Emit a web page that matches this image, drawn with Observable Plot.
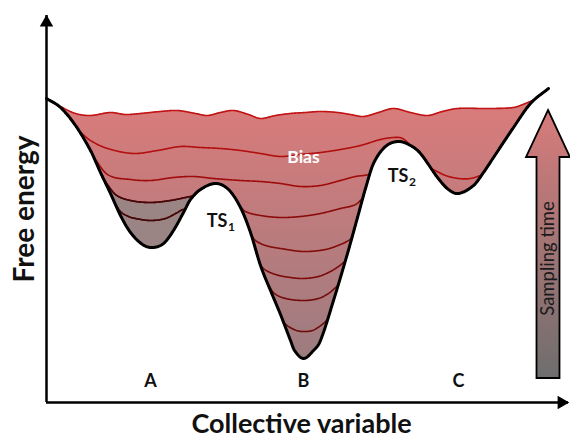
<!DOCTYPE html>
<html><head><meta charset="utf-8">
<script src="https://cdn.jsdelivr.net/npm/d3@7"></script>
<script src="https://cdn.jsdelivr.net/npm/@observablehq/plot@0.6"></script>
<style>
html,body{margin:0;padding:0;background:#fff;}
#chart{width:570px;height:438px;}
</style></head><body><div id="chart"></div>
<script>
// ---- Data (collective variable, free energy) ----
const freeEnergy = [[0,30.4],[1.4,29.5],[2.9,27.7],[4.4,25.2],[5.4,23.0],[6.4,20.9],[7.4,18.7],[8.4,17.0],[9.6,15.8],[10.6,15.5],[11.7,15.9],[12.7,17.2],[13.7,19.0],[14.4,20.3],[15.4,21.3],[16.9,21.9],[18.2,21.3],[19.4,19.5],[20.4,17.0],[21.4,13.7],[22.4,11.2],[23.4,8.8],[24.4,6.2],[24.8,5.2],[25.7,4.4],[26.7,5.2],[27.4,6.2],[28.7,10.2],[30.1,14.9],[31.1,18.5],[31.9,21.4],[32.7,23.9],[33.9,25.6],[35.2,26.1],[36.4,25.7],[37.4,24.9],[39.1,22.5],[40.2,21.3],[41.2,20.9],[42.7,21.7],[43.7,23.0],[44.7,24.5],[46.7,27.5],[48.4,29.9],[50.2,31.4]];

// biased free energy after successive sampling times (1 = earliest)
const bias1 = [[23.7,8.0],[24.2,7.6],[25.0,7.2],[25.7,7.1],[26.6,7.2],[27.3,7.6],[27.8,8.0],[28.1,8.3]];
const bias2 = [[22.2,11.7],[22.8,10.9],[23.9,10.4],[25.7,10.2],[27.2,10.4],[28.2,10.9],[28.8,11.4],[29.2,11.8],[29.5,12.4]];
const bias3 = [[21.0,14.4],[21.7,13.4],[22.9,12.8],[24.4,12.5],[25.7,12.4],[27.2,12.6],[28.4,13.1],[29.2,13.6],[29.7,14.0],[30.1,14.4]];
const bias4 = [[6.6,20.3],[7.4,19.1],[8.2,18.6],[8.9,18.4],[10.4,18.2],[11.9,18.4],[13.1,19.0],[13.7,19.3],[14.6,19.0],[20.2,17.0],[20.9,16.2],[21.9,15.7],[23.4,15.4],[25.7,15.1],[27.9,15.3],[29.4,15.8],[30.2,16.2],[30.7,16.6]];
const bias5 = [[5.8,22.2],[6.9,20.8],[8.4,20.2],[10.4,20.0],[12.4,20.2],[14.4,20.6],[15.2,20.7],[16.0,20.6],[19.0,19.9],[19.9,19.1],[21.4,18.7],[23.4,18.5],[25.4,18.6],[27.4,18.9],[29.4,19.4],[30.9,19.8],[31.8,20.6]];
const bias6 = [[4.6,24.7],[6.1,22.8],[8.4,22.3],[10.4,22.2],[12.7,22.5],[14.7,22.6],[16.7,22.4],[19.4,22.2],[21.4,22.1],[23.4,21.9],[25.4,21.6],[27.4,21.7],[29.4,22.2],[30.9,22.6],[32.2,22.8],[32.8,23.2]];
const bias7 = [[3.2,27.2],[4.4,26.2],[6.1,25.4],[8.7,24.9],[11.1,25.2],[13.4,25.6],[15.4,25.5],[17.4,25.4],[19.4,25.2],[21.4,24.9],[23.4,24.6],[25.4,24.8],[27.4,25.0],[29.4,25.3],[31.4,25.7],[33.4,26.3],[34.7,26.5],[35.6,26.4],[36.4,25.6],[37.2,23.7],[38.4,23.4],[39.9,22.7],[41.2,22.4],[42.4,22.4],[43.7,22.8],[44.4,23.0]];
const bias8 = [[0,30.4],[1.4,29.6],[2.9,28.9],[4.4,28.7],[6.4,29.0],[7.9,28.8],[9.4,28.9],[11.4,29.1],[13.1,29.2],[14.9,28.9],[16.1,28.7],[17.4,29.0],[18.7,29.2],[20.2,28.8],[21.4,28.4],[22.9,28.7],[24.4,28.9],[25.9,29.0],[27.4,29.1],[29.1,29.0],[30.4,28.8],[31.7,28.6],[33.2,29.0],[34.7,29.4],[36.4,29.0],[38.1,28.7],[39.6,29.1],[41.1,29.4],[44.1,29.4],[46.7,29.5],[47.9,29.9],[48.6,30.2]];

const basinLabels = [{label:"A", cv:10.4, F:2.1},{label:"B", cv:25.7, F:2.1},{label:"C", cv:41.2, F:2.1}];
const tsLabels = [{label:"TS", sub:"1", cv:18.1, F:18.1},{label:"TS", sub:"2", cv:36.2, F:22.6}];
const biasLabel = [{label:"Bias", cv:25.7, F:24.5}];
const samplingArrow = {cv:50.2, from:2.4, to:29.2, labelF:14.4, label:"Sampling time"};
const axisTitles = {x:"Collective variable", y:"Free energy"};
const axisMax = {cv:52.2, F:38.7};

// ---- smooth interpolation through the read points ----
function hermite(pts){
  const n = pts.length, xs = pts.map(p=>p[0]), ys = pts.map(p=>p[1]);
  const m = ys.map((_,i)=> i===0 ? (ys[1]-ys[0])/(xs[1]-xs[0]) : i===n-1 ? (ys[n-1]-ys[n-2])/(xs[n-1]-xs[n-2]) : (ys[i+1]-ys[i-1])/(xs[i+1]-xs[i-1]));
  return x=>{
    if (x < xs[0] || x > xs[n-1]) return null;
    let i = d3.bisectRight(xs, x) - 1; if (i > n-2) i = n-2; if (i < 0) i = 0;
    const h = xs[i+1]-xs[i], t = (x-xs[i])/h, t2=t*t, t3=t2*t;
    return (2*t3-3*t2+1)*ys[i] + (t3-2*t2+t)*h*m[i] + (-2*t3+3*t2)*ys[i+1] + (t3-t2)*h*m[i+1];
  };
}
const fCurve = hermite(freeEnergy);
const biasSets = [bias1,bias2,bias3,bias4,bias5,bias6,bias7,bias8].map(hermite);
const lastX = freeEnergy[freeEnergy.length-1][0];
const rows = d3.range(0, lastX, 0.05).concat([lastX]).map(x=>{
  const F = fCurve(x); const r = {x, F}; let prev = F;
  biasSets.forEach((f,k)=>{ const v = f(x); const y = Math.max(prev, v==null ? -Infinity : v); r["L"+(k+1)] = y; prev = y; });
  return r;
});
const basinA = rows.filter(r=>r.x <= 16.9);

const lineColors = ["#6e0b0b","#740b0b","#7b0b0b","#820b0b","#8c0b0b","#a00c0c","#b20f0f","#c21414"];

const marks = [
  Plot.areaY(rows, {x:"x", y1:"F", y2:"L8", fill:"url(#biasGrad)", curve:"linear"}),
  Plot.areaY(basinA, {x:"x", y1:"F", y2:"L5", fill:"#9a8484", curve:"linear"}),
  ...lineColors.map((c,k)=>Plot.line(rows, {x:"x", y:"L"+(k+1), stroke:c, strokeWidth:1.6, curve:"linear"})),
  Plot.line(basinA, {x:"x", y:"L4", stroke:"#3a0c0c", strokeWidth:1.6}),
  Plot.line(basinA, {x:"x", y:"L5", stroke:"#40090a", strokeWidth:1.6}),
  Plot.line(rows, {x:"x", y:"F", stroke:"#000", strokeWidth:3, curve:"linear"}),
  // axes with arrowheads
  Plot.ruleX([0], {y1:0, y2:axisMax.F, stroke:"#000", strokeWidth:2.5}),
  Plot.ruleY([0], {x1:0, x2:axisMax.cv, stroke:"#000", strokeWidth:2.5}),
  Plot.dot([{cv:0, F:axisMax.F}], {x:"cv", y:"F", symbol:"triangle", r:5, fill:"#000", stroke:null, dy:7}),
  Plot.dot([{cv:axisMax.cv, F:0}], {x:"cv", y:"F", symbol:"triangle", r:5, fill:"#000", stroke:null, rotate:90, dx:-7}),
  // labels
  Plot.text(basinLabels, {x:"cv", y:"F", text:"label", fontSize:18, fontWeight:"bold", fill:"#111"}),
  Plot.text(tsLabels, {x:"cv", y:"F", text:"label", textAnchor:"end", fontSize:18, fontWeight:"bold", fill:"#111"}),
  Plot.text(tsLabels, {x:"cv", y:"F", text:"sub", textAnchor:"start", fontSize:12, fontWeight:"bold", fill:"#111", dy:6, dx:0.5}),
  Plot.text(biasLabel, {x:"cv", y:"F", text:"label", fontSize:17.5, fontWeight:"bold", fill:"#fff"}),
  Plot.text([samplingArrow], {x:"cv", y:"labelF", text:"label", rotate:-90, fontSize:18.5, fill:"#1a1a1a"}),
  Plot.text([axisTitles.x], {frameAnchor:"bottom", textAnchor:"middle", lineAnchor:"middle", dy:22, dx:-6, fontSize:27, fontWeight:"bold", fill:"#111"}),
  Plot.text([axisTitles.y], {frameAnchor:"left", textAnchor:"middle", lineAnchor:"middle", dx:-21, rotate:-90, fontSize:28, fontWeight:"bold", fill:"#111"})
];

const svg = Plot.plot({
  width:570, height:438,
  marginLeft:46, marginRight:2, marginTop:15, marginBottom:36,
  x:{domain:[0, axisMax.cv], axis:null},
  y:{domain:[0, axisMax.F], axis:null},
  style:{fontFamily:"Lato, 'Open Sans', sans-serif", background:"#fff", overflow:"visible"},
  marks
});

// gradients and the sampling-time arrow, positioned through Plot's scales
const xs = svg.scale("x"), ys = svg.scale("y");
const NS = "http://www.w3.org/2000/svg";
const defs = document.createElementNS(NS, "defs");
function grad(id, yTop, yBot, c1, c2){
  const g = document.createElementNS(NS, "linearGradient");
  g.setAttribute("id", id); g.setAttribute("gradientUnits","userSpaceOnUse");
  g.setAttribute("x1",0); g.setAttribute("x2",0); g.setAttribute("y1",yTop); g.setAttribute("y2",yBot);
  [[0,c1],[1,c2]].forEach(([o,c])=>{ const s=document.createElementNS(NS,"stop"); s.setAttribute("offset",o); s.setAttribute("stop-color",c); g.appendChild(s); });
  defs.appendChild(g);
}
grad("biasGrad", ys.apply(29), ys.apply(4.4), "#d87b7b", "#9c7c80");
grad("arrowGrad", ys.apply(samplingArrow.to), ys.apply(samplingArrow.from), "#d97b7b", "#6e6e6e");
const cx = xs.apply(samplingArrow.cv), tip = ys.apply(samplingArrow.to), bot = ys.apply(samplingArrow.from);
const hb = tip + 47, hw = 22, sw = 11.5;
const arrow = document.createElementNS(NS, "path");
arrow.setAttribute("d", `M${cx},${tip}L${cx+hw},${hb}L${cx+sw},${hb}L${cx+sw},${bot}L${cx-sw},${bot}L${cx-sw},${hb}L${cx-hw},${hb}Z`);
arrow.setAttribute("fill","url(#arrowGrad)"); arrow.setAttribute("stroke","#000"); arrow.setAttribute("stroke-width","1.8"); arrow.setAttribute("stroke-linejoin","miter");
svg.insertBefore(defs, svg.firstChild);
svg.insertBefore(arrow, defs.nextSibling);
document.getElementById("chart").appendChild(svg);
</script></body></html>
